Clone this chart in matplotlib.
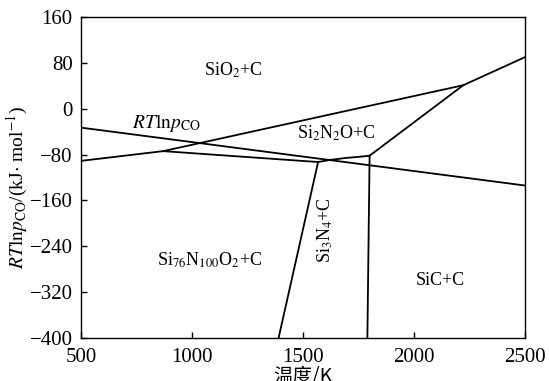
import matplotlib
matplotlib.use('Agg')
import matplotlib.pyplot as plt

plt.rcParams['font.family'] = ['Liberation Serif', 'Noto Sans CJK SC']
plt.rcParams['mathtext.fontset'] = 'stix'

# RT ln p_CO line
rtlnp_T = [500, 2500]
rtlnp_G = [-33, -134]

# SiO2 / lower boundary (kinked at ~870 K and ~2220 K)
low_T = [500, 870]
low_G = [-91, -74]
upper_T = [870, 2222, 2500]
upper_G = [-74, 41, 90]

# Si76N100O2 / Si2N2O boundary
flat_T = [870, 1568]
flat_G = [-74, -93]

# Si3N4 / Si2N2O boundary (slightly curved)
curve_T = [1568, 1620, 1690, 1750, 1800]
curve_G = [-93, -89.5, -86, -84, -82]

# Si2N2O / SiC boundary
diag_T = [1800, 2222]
diag_G = [-82, 41]

# Si76N100O2 / Si3N4 boundary
left_T = [1390, 1568]
left_G = [-400, -93]

# Si3N4 / SiC boundary
vert_T = [1790, 1800]
vert_G = [-400, -82]

labels = [
    (1185, 67, r'SiO$_2$+C', 0),
    (1651, -43, r'Si$_2$N$_2$O+C', 0),
    (1081, -264, r'Si$_{76}$N$_{100}$O$_2$+C', 0),
    (1599, -212, r'Si$_3$N$_4$+C', 90),
    (2120, -300, r'SiC+C', 0),
]

fig = plt.figure(figsize=(5.49, 3.81), dpi=100)
ax = fig.add_axes([81 / 549, 1 - 338 / 381, 444 / 549, 321 / 381])

lw = 1.3
for T, G in [(rtlnp_T, rtlnp_G), (low_T, low_G), (upper_T, upper_G),
             (flat_T, flat_G), (curve_T, curve_G), (diag_T, diag_G),
             (left_T, left_G), (vert_T, vert_G)]:
    ax.plot(T, G, color='black', lw=lw, solid_joinstyle='miter')

for x, y, s, rot in labels:
    ax.text(x, y, s, ha='center', va='center', rotation=rot, fontsize=13)

ax.text(728, -25, r'$RT\mathrm{ln}p_{\mathrm{CO}}$', ha='left', va='center', fontsize=14)

ax.set_xlim(500, 2500)
ax.set_ylim(-400, 160)
ax.set_xticks([500, 1000, 1500, 2000, 2500])
ax.set_yticks([-400, -320, -240, -160, -80, 0, 80, 160])
ax.set_yticklabels(['\u2212400', '\u2212320', '\u2212240', '\u2212160', '\u221280', '0', '80', '160'])
ax.tick_params(direction='in', length=4, width=1, labelsize=15)
ax.tick_params(axis='x', pad=7)
ax.tick_params(axis='y', pad=6)
for sp in ax.spines.values():
    sp.set_linewidth(1.0)

ax.set_ylabel(r'$RT\mathrm{ln}p_{\mathrm{CO}}$/(kJ$\cdot$ mol$^{-1}$)', fontsize=14,
              va='center')
ax.yaxis.set_label_coords(-0.142, 0.47)
fig.text(303 / 549, 1 - 366 / 381, '温度/K', ha='center', va='top', fontsize=14,
         family=['Noto Sans CJK SC', 'Liberation Serif'])

fig.savefig('out.png', dpi=100)
